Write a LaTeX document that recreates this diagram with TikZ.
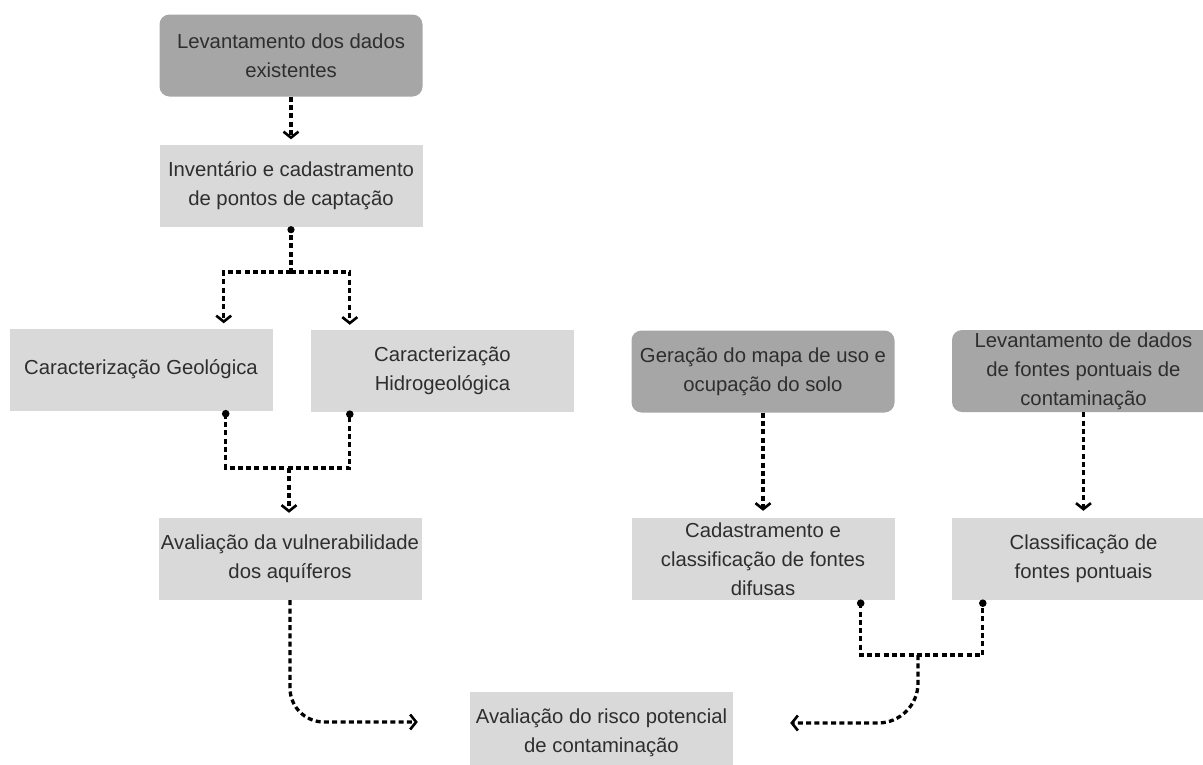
\documentclass[tikz,border=0pt]{standalone}
\usepackage{fontspec}
\setmainfont{Liberation Sans}
\usetikzlibrary{arrows.meta}
\definecolor{darkbox}{HTML}{A6A6A6}
\definecolor{lightbox}{HTML}{D9D9D9}
\definecolor{ink}{HTML}{2E2E2E}
\tikzset{
  basebox/.style={minimum width=263pt, minimum height=82pt, inner sep=0pt,
    align=center, text=ink, font=\fontsize{20.3}{29}\selectfont},
  datasrc/.style={basebox, fill=darkbox, rounded corners=10pt},
  stage/.style={basebox, fill=lightbox},
  link/.style={draw=black, line width=3.3pt, dash pattern=on 5pt off 3.3pt},
  flow/.style={link, -{Straight Barb[length=6pt,width=15pt,line width=2.6pt]}},
  startdot/.style={fill=black}
}
\begin{document}
\begin{tikzpicture}[x=1pt,y=-1pt]
\useasboundingbox (0,0) rectangle (1203,764);
\clip (0,0) rectangle (1203,764);

% left branch
\node[datasrc] (b1) at (291,55.5) {Levantamento dos dados\\existentes};
\node[stage]   (b2) at (291,185.5) {Inventário e cadastramento\\de pontos de captação};
\node[stage]   (b3) at (141,369.5) {Caracterização Geológica};
\node[stage]   (b4) at (442.5,371) {Caracterização\\Hidrogeológica};
\node[stage]   (b5) at (290,559) {Avaliação da vulnerabilidade\\dos aquíferos};

% right branch
\node[datasrc] (b7) at (763,371.5) {Geração do mapa de uso e\\ocupação do solo};
\node[datasrc] (b8) at (1083.5,371) {Levantamento de dados\\de fontes pontuais de\\contaminação};
\node[stage]   (b9) at (763,559) {Cadastramento e\\classificação de fontes\\difusas};
\node[stage]   (b10) at (1083.5,559) {Classificação de\\fontes pontuais};

% result
\node[stage]   (b6) at (601.5,733) {Avaliação do risco potencial\\de contaminação};

% connectors, left branch
\draw[flow, shorten >=5pt] (b1.south) -- (b2.north);
\coordinate (j1) at (291,272);
\draw[link] (b2.south) -- (j1);
\fill[startdot] ([yshift=-3pt]b2.south) circle (3.6pt);
\draw[flow, shorten >=5pt] (j1) -| ([xshift=-49pt]b3.north east);
\draw[flow, shorten >=5pt] (j1) -| ([xshift=39pt]b4.north west);

\coordinate (p3) at ([xshift=-47pt,yshift=-3pt]b3.south east);
\coordinate (p4) at ([xshift=39pt,yshift=-2pt]b4.south west);
\coordinate (m1) at (289,468);
\draw[link] (p3) |- (m1) -| (p4);
\fill[startdot] (p3) circle (3.8pt);
\fill[startdot] (p4) circle (3.8pt);
\draw[flow, shorten >=5pt] (m1) -- (m1 |- b5.north);

\draw[flow, rounded corners=34pt, shorten >=52pt]
  (b5.south) |- ([yshift=11pt]b6.west);

% connectors, right branch
\draw[flow, shorten >=7pt] (b7.south) -- (b9.north);
\draw[flow, shorten >=7pt] (b8.south) -- (b10.north);

\coordinate (p9) at ([xshift=-34pt,yshift=-3pt]b9.south east);
\coordinate (p10) at ([xshift=31pt,yshift=-3pt]b10.south west);
\coordinate (m2) at (918,655);
\draw[link] (p9) |- (m2) -| (p10);
\fill[startdot] (p9) circle (3.8pt);
\fill[startdot] (p10) circle (3.8pt);

\draw[flow, rounded corners=40pt, shorten >=57pt]
  (m2) |- ([yshift=10pt]b6.east);
\end{tikzpicture}
\end{document}
